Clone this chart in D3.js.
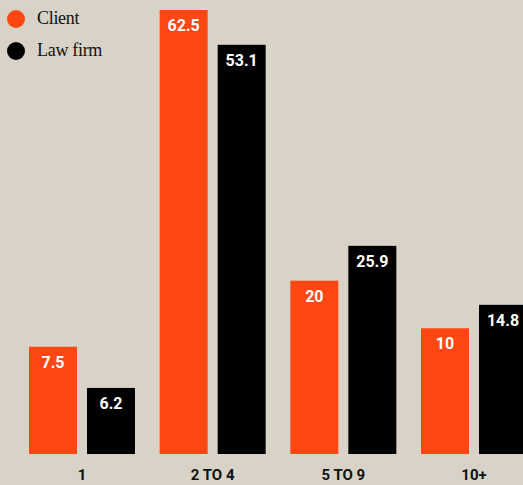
<!DOCTYPE html>
<html>
<head>
<meta charset="utf-8">
<script src="https://cdn.jsdelivr.net/npm/d3@7"></script>
<style>
  html, body { margin: 0; padding: 0; background: #d8d3c6; }
  svg { display: block; }
</style>
</head>
<body>
<svg id="chart" width="523" height="485"></svg>
<script>
// ---- data ----
const categories = ["1", "2 TO 4", "5 TO 9", "10+"];
const seriesNames = ["Client", "Law firm"];
// values printed on the bars
const clientLabels = ["7.5", "62.5", "20", "10"];
const lawFirmLabels = ["6.2", "53.1", "25.9", "14.8"];
// bar lengths as drawn in the reference (not drawn to the printed values)
const clientBars = [15.1, 62.5, 24.4, 17.7];
const lawFirmBars = [9.3, 57.6, 29.3, 21.0];
const colors = ["#ff4713", "#000000"];

// ---- layout ----
const W = 523, H = 485;
const baseline = 454;
const svg = d3.select("#chart");
svg.append("rect").attr("width", W).attr("height", H).attr("fill", "#d8d3c6");

const x0 = d3.scaleBand().domain(categories)
  .range([16.67, 539.33]).paddingInner(0.1888).paddingOuter(0.0944);
const x1 = d3.scaleBand().domain(seriesNames)
  .range([0, x0.bandwidth()]).paddingInner(0.1724).paddingOuter(0);
const y = d3.scaleLinear().domain([0, 62.5]).range([baseline, 10]);

const rows = categories.map((c, i) => ({
  cat: c,
  items: [
    { s: seriesNames[0], v: clientBars[i], label: clientLabels[i], color: colors[0] },
    { s: seriesNames[1], v: lawFirmBars[i], label: lawFirmLabels[i], color: colors[1] }
  ]
}));

const g = svg.selectAll("g.grp").data(rows).join("g")
  .attr("class", "grp")
  .attr("transform", d => `translate(${x0(d.cat)},0)`);

g.selectAll("rect").data(d => d.items).join("rect")
  .attr("x", d => x1(d.s))
  .attr("y", d => y(d.v))
  .attr("width", x1.bandwidth())
  .attr("height", d => baseline - y(d.v))
  .attr("fill", d => d.color);

g.selectAll("text.val").data(d => d.items).join("text")
  .attr("class", "val")
  .attr("x", d => x1(d.s) + x1.bandwidth() / 2)
  .attr("y", d => y(d.v) + 21)
  .attr("text-anchor", "middle")
  .attr("fill", "#ffffff")
  .attr("font-family", "Roboto, sans-serif")
  .attr("font-weight", "bold")
  .attr("font-size", "16px")
  .text(d => d.label);

// x axis labels
const xAxis = d3.axisBottom(x0).tickSize(0).tickPadding(0);
const ax = svg.append("g").attr("transform", `translate(0,${baseline + 15})`).call(xAxis);
ax.select(".domain").remove();
ax.selectAll("text")
  .attr("font-family", "Roboto, sans-serif")
  .attr("font-weight", "bold")
  .attr("font-size", "15px")
  .attr("fill", "#111");

// legend
const leg = svg.append("g");
seriesNames.forEach((s, i) => {
  const cy = 19 + i * 32;
  leg.append("circle").attr("cx", 16).attr("cy", cy).attr("r", 9).attr("fill", colors[i]);
  leg.append("text").attr("x", 37).attr("y", cy + 5)
    .attr("font-family", "'Liberation Serif', 'DejaVu Serif', serif")
    .attr("font-size", "18px")
    .attr("letter-spacing", "-0.3px")
    .attr("fill", "#111")
    .text(s);
});
</script>
</body>
</html>
